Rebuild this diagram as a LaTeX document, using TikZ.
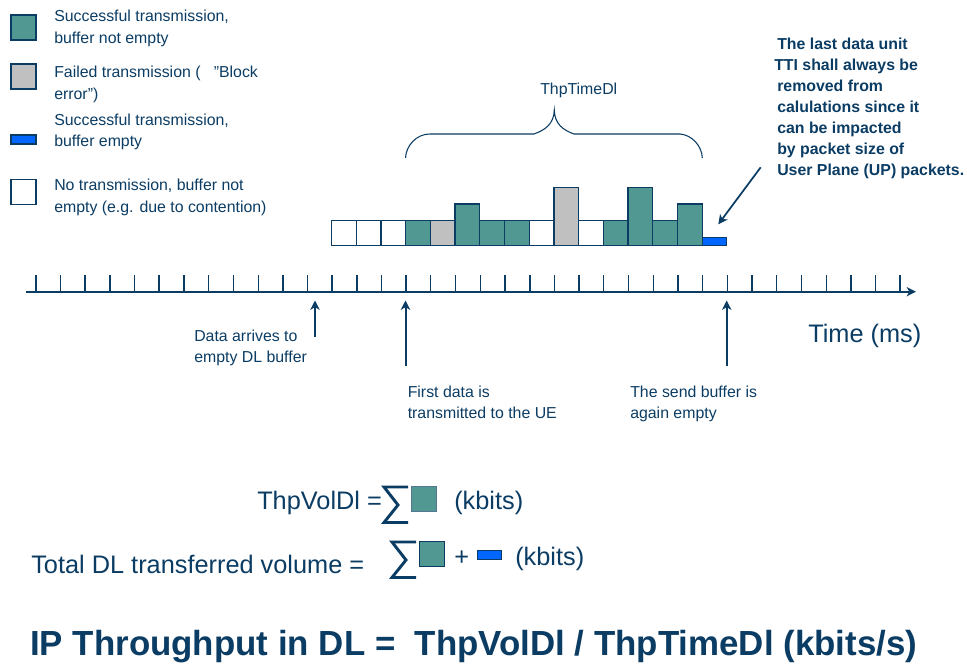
\documentclass[tikz,border=0pt]{standalone}
\usepackage{fontspec}
\setmainfont{Liberation Sans}
\usetikzlibrary{arrows.meta}
\definecolor{navy}{HTML}{0B3C63}
\definecolor{tealbar}{HTML}{519892}
\definecolor{graybar}{HTML}{C0C0C0}
\definecolor{bluebar}{HTML}{0066FF}
\tikzset{
  x=0.75pt,y=-0.75pt,
  cell/.style={draw=navy,line width=0.9pt},
  okcell/.style={cell,fill=tealbar},
  failcell/.style={cell,fill=graybar},
  lastcell/.style={cell,fill=bluebar},
  idlecell/.style={cell,fill=white},
  txt/.style={text=navy,inner sep=0pt,align=left,anchor=north west},
  legendtxt/.style={txt,font=\fontsize{11.9pt}{16.2pt}\selectfont},
  noteline/.style={txt,font=\fontsize{11.9pt}{15.8pt}\selectfont},
  boldline/.style={txt,anchor=base west,font=\bfseries\fontsize{11.9pt}{14pt}\selectfont},
  eqtxt/.style={txt,anchor=base west,font=\fontsize{19pt}{22pt}\selectfont},
  tick/.style={draw=navy,line width=1.2pt},
  thintick/.style={draw=navy,line width=0.7pt},
  arrowline/.style={draw=navy,line width=1.5pt,-{Stealth[length=7pt,width=7pt,inset=2pt]}},
  sumsign/.style={draw=navy,line width=2.2pt,miter limit=10},
}
\begin{document}
\begin{tikzpicture}
\useasboundingbox (0,0) rectangle (967,666);
% legend
\path[okcell] (11,15) rectangle (36,40);
\path[failcell] (11,64) rectangle (36,89);
\path[lastcell] (11,135) rectangle (36,144);
\path[idlecell] (11,179.5) rectangle (36,204.5);
\node[legendtxt] (l1) at (54,9.7) {Successful transmission,\\buffer not empty};
\node[legendtxt] (l2) at (54,66) {Failed transmission (\ \ \ ”Block\\error”)};
\node[legendtxt] (l3) at (54,113.3) {Successful transmission,\\buffer empty};
\node[legendtxt] (l4) at (54,179) {No transmission, buffer not\\empty (e.g. due to contention)};
% bars
\path[idlecell] (331.7,220.7) rectangle (356.3,245.3);
\path[idlecell] (356.3,220.7) rectangle (381,245.3);
\path[idlecell] (381,220.7) rectangle (405.7,245.3);
\path[okcell] (405.7,220.7) rectangle (430.4,245.3);
\path[failcell] (430.4,220.7) rectangle (455,245.3);
\path[okcell] (455,204) rectangle (479.8,245.3);
\path[okcell] (479.8,220.7) rectangle (504.5,245.3);
\path[okcell] (504.5,220.7) rectangle (529.2,245.3);
\path[idlecell] (529.2,220.7) rectangle (553.9,245.3);
\path[failcell] (553.9,187.7) rectangle (578.6,245.3);
\path[idlecell] (578.6,220.7) rectangle (603.3,245.3);
\path[okcell] (603.3,220.7) rectangle (628,245.3);
\path[okcell] (628,187.7) rectangle (652.7,245.3);
\path[okcell] (652.7,220.7) rectangle (677.4,245.3);
\path[okcell] (677.4,204) rectangle (702.1,245.3);
\path[lastcell] (702.1,237.3) rectangle (726.8,245.3);
% brace
\draw[navy,line width=0.8pt] (405.5,158) .. controls (406,146) and (416,134) .. (430,134)
  -- (534,134) .. controls (545,130) and (554,124) .. (554.3,110)
  .. controls (554.6,124) and (563,130) .. (574,134)
  -- (680,134) .. controls (692,135) and (702,146) .. (702.3,158);
\node[txt,font=\fontsize{11.9pt}{14pt}\selectfont,anchor=base west] (thptime) at (540,95) {ThpTimeDl};
% axis
\coordinate (axisL) at (26,291.7);
\coordinate (axisR) at (916,291.7);
\draw[draw=navy,line width=1.5pt,-{Stealth[length=7pt,width=7pt,inset=2pt]}] (axisL) -- (axisR);
\foreach \i in {0,...,35}{
  \pgfmathsetmacro{\xx}{35.7+24.7*\i}
  \def\sty{tick}
  \ifnum\i=4 \def\sty{thintick}\fi
  \ifnum\i=9 \def\sty{thintick}\fi
  \ifnum\i=16 \def\sty{thintick}\fi
  \ifnum\i=23 \def\sty{thintick}\fi
  \ifnum\i=24 \def\sty{thintick}\fi
  \ifnum\i=25 \def\sty{thintick}\fi
  \ifnum\i=30 \def\sty{thintick}\fi
  \ifnum\i=32 \def\sty{thintick}\fi
  \draw[\sty] (\xx,275.5) -- (\xx,291.7);
}
% lower arrows
\coordinate (a1s) at (315,337); \coordinate (a1e) at (315,300.5);
\coordinate (a2s) at (405.5,366); \coordinate (a2e) at (405.5,300.5);
\coordinate (a3s) at (726.7,366); \coordinate (a3e) at (726.7,300.5);
\draw[arrowline] (a1s) -- (a1e);
\draw[arrowline] (a2s) -- (a2e);
\draw[arrowline] (a3s) -- (a3e);
\node[noteline] (n1) at (194,330) {Data arrives to\\empty DL buffer};
\node[noteline] (n2) at (407.5,385.5) {First data is\\transmitted to the UE};
\node[noteline] (n3) at (630,385.5) {The send buffer is\\again empty};
\node[txt,anchor=base west,font=\fontsize{19pt}{22pt}\selectfont] (time) at (808,342.5) {Time (ms)};
% annotation
\node[boldline] (b1) at (777,49.3) {The last data unit};
\node[boldline] (b2) at (774,71) {TTI shall always be};
\node[boldline] (b3) at (777,91.7) {removed from};
\node[boldline] (b4) at (777,112.7) {calulations since it};
\node[boldline] (b5) at (777,134) {can be impacted};
\node[boldline] (b6) at (777,155) {by packet size of};
\node[boldline] (b7) at (777,176) {User Plane (UP) packets.};
\coordinate (d1) at (760.7,167.3); \coordinate (d2) at (718.3,224.3);
\draw[arrowline,line width=1.3pt] (d1) -- (d2);
% equations
\node[eqtxt] (e1) at (257,509.5) {ThpVolDl =};
\draw[sumsign] (408,487) -- (384,487) -- (398,505) -- (384,522.5) -- (408,522.5);
\path[okcell,draw=navy!70,line width=0.7pt] (411,486) rectangle (436,511);
\node[eqtxt] (e1b) at (454,509.5) {(kbits)};
\node[eqtxt] (e2) at (31,573.5) {Total DL transferred volume =};
\draw[sumsign] (416,542) -- (392,542) -- (406,560) -- (392,577.5) -- (416,577.5);
\path[okcell,line width=0.7pt] (419,541) rectangle (444,566);
\node[eqtxt] (e2p) at (454,565.5) {+};
\path[lastcell,line width=0.7pt] (477,550.5) rectangle (501.5,559);
\node[eqtxt] (e2b) at (515,565.5) {(kbits)};
\node[txt,anchor=base west,font=\bfseries\fontsize{26.15pt}{30pt}\selectfont] (title) at (30,655) {IP Throughput in DL =\ \ ThpVolDl / ThpTimeDl (kbits/s)};
\end{tikzpicture}
\end{document}
